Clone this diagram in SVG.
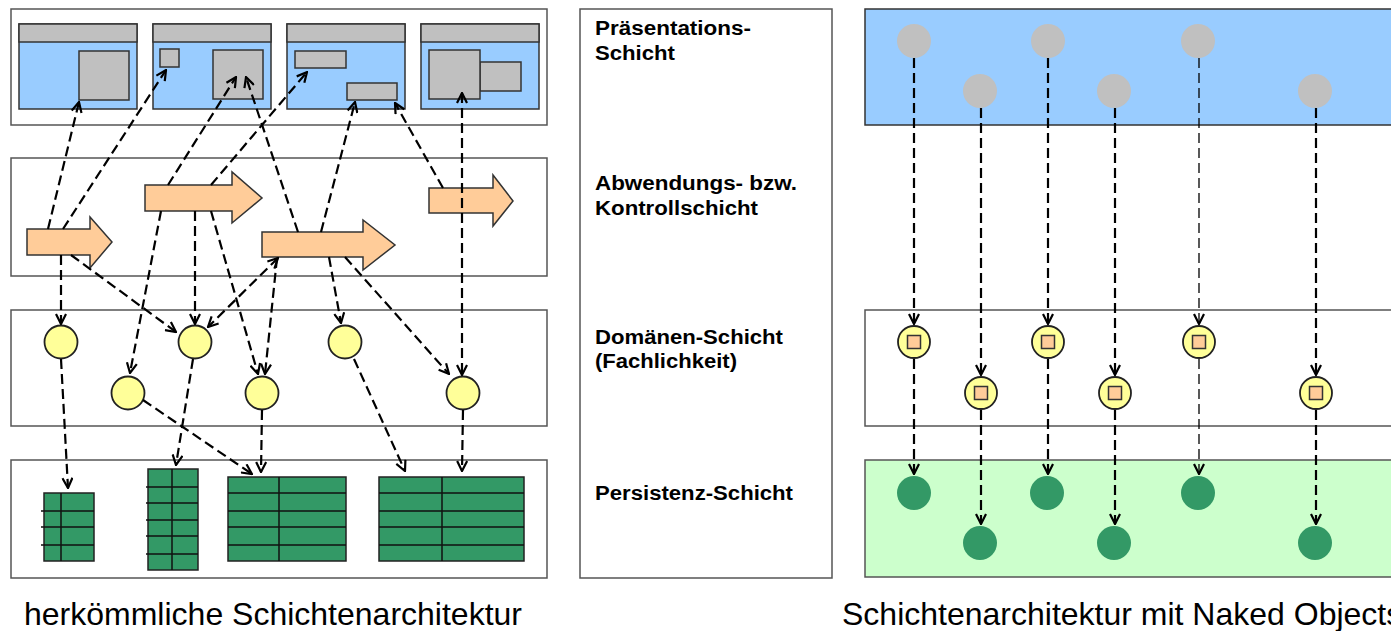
<svg xmlns="http://www.w3.org/2000/svg" width="1391" height="631" viewBox="0 0 1391 631">
<style>
.layer{fill:#fff;stroke:#555;stroke-width:1.5}
.win{fill:#99CCFF;stroke:#333;stroke-width:1.5}
.bar{fill:#C0C0C0;stroke:#333;stroke-width:1.5}
.gbox{fill:#C0C0C0;stroke:#333;stroke-width:1.5}
.ctrl{fill:#FFCC99;stroke:#333;stroke-width:1.5}
.dom{fill:#FFFF99;stroke:#222;stroke-width:1.8}
.tab{fill:#339966;stroke:#222;stroke-width:1.5}
.tl{stroke:#111;stroke-width:1.5}
.c{fill:none;stroke:#000;stroke-width:2.2;stroke-dasharray:10,5}
.thin{stroke-width:1.3}
.lbl{font-family:"Liberation Sans",Arial,sans-serif;font-weight:bold;font-size:20px;fill:#000}
.cap{font-family:"Liberation Sans",Arial,sans-serif;font-size:32px;fill:#000}
.pres{fill:#C0C0C0}
.pers{fill:#339966}
.sq{fill:#FFCC99;stroke:#333;stroke-width:1.5}
</style>
<defs>
<marker id="ah" viewBox="0 0 12 12" refX="11" refY="6" markerWidth="12" markerHeight="12" markerUnits="userSpaceOnUse" orient="auto-start-reverse">
<path d="M1,1 L11,6 L1,11" fill="none" stroke="#000" stroke-width="2.2" stroke-dasharray="none"/>
</marker>
</defs>

<!-- LEFT PANEL -->
<g id="left-presentation">
<rect class="layer" x="11" y="9" width="536" height="116"/>
<g id="win1">
<rect class="win" x="19" y="24" width="118" height="85"/>
<rect class="bar" x="19" y="24" width="118" height="18"/>
<rect class="gbox" x="79" y="51" width="50" height="49"/>
</g>
<g id="win2">
<rect class="win" x="153" y="24" width="118" height="85"/>
<rect class="bar" x="153" y="24" width="118" height="18"/>
<rect class="gbox" x="160" y="49" width="19" height="18"/>
<rect class="gbox" x="213" y="50" width="50" height="49"/>
</g>
<g id="win3">
<rect class="win" x="287" y="24" width="118" height="85"/>
<rect class="bar" x="287" y="24" width="118" height="18"/>
<rect class="gbox" x="295" y="51" width="51" height="17"/>
<rect class="gbox" x="347" y="83" width="50" height="17"/>
</g>
<g id="win4">
<rect class="win" x="421" y="24" width="118" height="85"/>
<rect class="bar" x="421" y="24" width="118" height="18"/>
<rect class="gbox" x="480" y="62" width="41" height="29"/>
<rect class="gbox" x="429" y="50" width="51" height="49"/>
</g>
</g>

<g id="left-control">
<rect class="layer" x="11" y="158" width="536" height="118"/>
<path id="a1" class="ctrl" d="M27,229 H90 V217 L112,242 L90,268 V255 H27 Z"/>
<path id="a2" class="ctrl" d="M145,185 H232 V172 L262,198 L232,223 V211 H145 Z"/>
<path id="a3" class="ctrl" d="M262,232 H363 V220 L395,245 L363,270 V257 H262 Z"/>
<path id="a4" class="ctrl" d="M429,188 H493 V175 L513,201 L493,226 V213 H429 Z"/>
</g>

<g id="left-domain">
<rect class="layer" x="11" y="310" width="536" height="116"/>
<circle id="c1" class="dom" cx="61" cy="342" r="16.5"/>
<circle id="c2" class="dom" cx="195" cy="342" r="16.5"/>
<circle id="c3" class="dom" cx="345" cy="342" r="16.5"/>
<circle id="c4" class="dom" cx="128" cy="393" r="16.5"/>
<circle id="c5" class="dom" cx="262" cy="393" r="16.5"/>
<circle id="c6" class="dom" cx="463" cy="393" r="16.5"/>
</g>

<g id="left-persistence">
<rect class="layer" x="11" y="460" width="536" height="118"/>
<g id="t1">
<rect class="tab" x="44" y="493" width="50" height="68"/>
<path class="tl" d="M61,493 V561 M41,511 H94 M41,527 H94 M41,545 H94"/>
</g>
<g id="t2">
<rect class="tab" x="148" y="469" width="50" height="101"/>
<path class="tl" d="M172,469 V570 M146,487 H198 M146,503 H198 M146,520 H198 M146,536 H198 M146,554 H198"/>
</g>
<g id="t3">
<rect class="tab" x="228" y="477" width="118" height="84"/>
<path class="tl" d="M279,477 V561 M228,493 H346 M228,511 H346 M228,527 H346 M228,545 H346"/>
</g>
<g id="t4">
<rect class="tab" x="379" y="477" width="145" height="84"/>
<path class="tl" d="M442,477 V561 M379,493 H524 M379,511 H524 M379,527 H524 M379,545 H524"/>
</g>
</g>

<g id="left-connectors">
<path class="c" marker-end="url(#ah)" d="M48,229 L79,102"/>
<path class="c" marker-end="url(#ah)" d="M63,229 L166,70"/>
<path class="c" marker-end="url(#ah)" d="M168,185 L236,77"/>
<path class="c" marker-end="url(#ah)" d="M298,232 L246,77"/>
<path class="c" marker-end="url(#ah)" d="M211,185 L307,72"/>
<path class="c" marker-end="url(#ah)" d="M321,232 L355,102"/>
<path class="c" marker-end="url(#ah)" d="M443,188 L395,103"/>
<path class="c" marker-start="url(#ah)" marker-end="url(#ah)" d="M462,93 L462,375"/>
<path class="c" marker-end="url(#ah)" d="M61,255 L61,324"/>
<path class="c" marker-end="url(#ah)" d="M71,255 L176,332"/>
<path class="c" marker-end="url(#ah)" d="M161,211 L130,373"/>
<path class="c" marker-end="url(#ah)" d="M195,211 L195,324"/>
<path class="c" marker-end="url(#ah)" d="M211,211 L258,374"/>
<path class="c" marker-start="url(#ah)" marker-end="url(#ah)" d="M278,258 L208,327"/>
<path class="c" marker-end="url(#ah)" d="M277,258 L265,374"/>
<path class="c" marker-end="url(#ah)" d="M329,257 L341,323"/>
<path class="c" marker-end="url(#ah)" d="M345,257 L449,374"/>
<path class="c" marker-end="url(#ah)" d="M61,359 L68,488"/>
<path class="c" marker-end="url(#ah)" d="M193,359 L176,465"/>
<path class="c" marker-end="url(#ah)" d="M143,400 L252,474"/>
<path class="c" marker-end="url(#ah)" d="M262,410 L261,472"/>
<path class="c" marker-end="url(#ah)" d="M354,359 L405,471"/>
<path class="c" marker-end="url(#ah)" d="M463,410 L462,471"/>
</g>

<g id="caption-left">
<text class="cap" x="24" y="625">herkömmliche Schichtenarchitektur</text>
</g>

<!-- MIDDLE PANEL -->
<g id="labels">
<rect class="layer" x="580" y="9" width="252" height="569"/>
<text class="lbl" x="595" y="35" textLength="156" lengthAdjust="spacingAndGlyphs">Präsentations-</text>
<text class="lbl" x="595" y="60" textLength="80" lengthAdjust="spacingAndGlyphs">Schicht</text>
<text class="lbl" x="595" y="190" textLength="202" lengthAdjust="spacingAndGlyphs">Abwendungs- bzw.</text>
<text class="lbl" x="595" y="215" textLength="163" lengthAdjust="spacingAndGlyphs">Kontrollschicht</text>
<text class="lbl" x="595" y="344" textLength="188" lengthAdjust="spacingAndGlyphs">Domänen-Schicht</text>
<text class="lbl" x="595" y="368" textLength="142" lengthAdjust="spacingAndGlyphs">(Fachlichkeit)</text>
<text class="lbl" x="595" y="500" textLength="198" lengthAdjust="spacingAndGlyphs">Persistenz-Schicht</text>
</g>

<!-- RIGHT PANEL -->
<g id="right-presentation">
<rect x="865" y="9" width="540" height="116" fill="#99CCFF" stroke="#333" stroke-width="1.5"/>
<circle class="pres" cx="914" cy="41" r="17"/>
<circle class="pres" cx="1048" cy="41" r="17"/>
<circle class="pres" cx="1198" cy="41" r="17"/>
<circle class="pres" cx="980" cy="91" r="17"/>
<circle class="pres" cx="1114" cy="91" r="17"/>
<circle class="pres" cx="1315" cy="91" r="17"/>
</g>

<g id="right-domain">
<rect x="865" y="310" width="540" height="116" fill="#fff" stroke="#555" stroke-width="1.5"/>
<g id="n1"><circle class="dom" cx="914" cy="342" r="16"/><rect class="sq" x="907.5" y="335.5" width="13" height="13"/></g>
<g id="n2"><circle class="dom" cx="1048" cy="342" r="16"/><rect class="sq" x="1041.5" y="335.5" width="13" height="13"/></g>
<g id="n3"><circle class="dom" cx="1199" cy="342" r="16"/><rect class="sq" x="1192.5" y="335.5" width="13" height="13"/></g>
<g id="n4"><circle class="dom" cx="981" cy="393" r="16"/><rect class="sq" x="974.5" y="386.5" width="13" height="13"/></g>
<g id="n5"><circle class="dom" cx="1115" cy="393" r="16"/><rect class="sq" x="1108.5" y="386.5" width="13" height="13"/></g>
<g id="n6"><circle class="dom" cx="1316" cy="393" r="16"/><rect class="sq" x="1309.5" y="386.5" width="13" height="13"/></g>
</g>

<g id="right-persistence">
<rect x="865" y="460" width="540" height="117" fill="#CCFFCC" stroke="#555" stroke-width="1.5"/>
<circle class="pers" cx="914" cy="493" r="17"/>
<circle class="pers" cx="1047" cy="493" r="17"/>
<circle class="pers" cx="1198" cy="493" r="17"/>
<circle class="pers" cx="980" cy="543" r="17"/>
<circle class="pers" cx="1114" cy="543" r="17"/>
<circle class="pers" cx="1315" cy="543" r="17"/>
</g>

<g id="right-connectors">
<path class="c" marker-end="url(#ah)" d="M914,58 L914,324"/>
<path class="c" marker-end="url(#ah)" d="M1048,58 L1048,324"/>
<path class="c thin" marker-end="url(#ah)" d="M1199,58 L1199,324"/>
<path class="c" marker-end="url(#ah)" d="M981,108 L981,375"/>
<path class="c" marker-end="url(#ah)" d="M1115,108 L1115,375"/>
<path class="c" marker-end="url(#ah)" d="M1316,108 L1316,375"/>
<path class="c" marker-end="url(#ah)" d="M914,359 L914,474"/>
<path class="c" marker-end="url(#ah)" d="M1048,359 L1048,474"/>
<path class="c thin" marker-end="url(#ah)" d="M1199,359 L1199,474"/>
<path class="c" marker-end="url(#ah)" d="M981,410 L981,524"/>
<path class="c" marker-end="url(#ah)" d="M1115,410 L1115,524"/>
<path class="c" marker-end="url(#ah)" d="M1316,410 L1316,524"/>
</g>

<g id="caption-right">
<text class="cap" x="842" y="625">Schichtenarchitektur mit Naked Objects</text>
</g>
</svg>
